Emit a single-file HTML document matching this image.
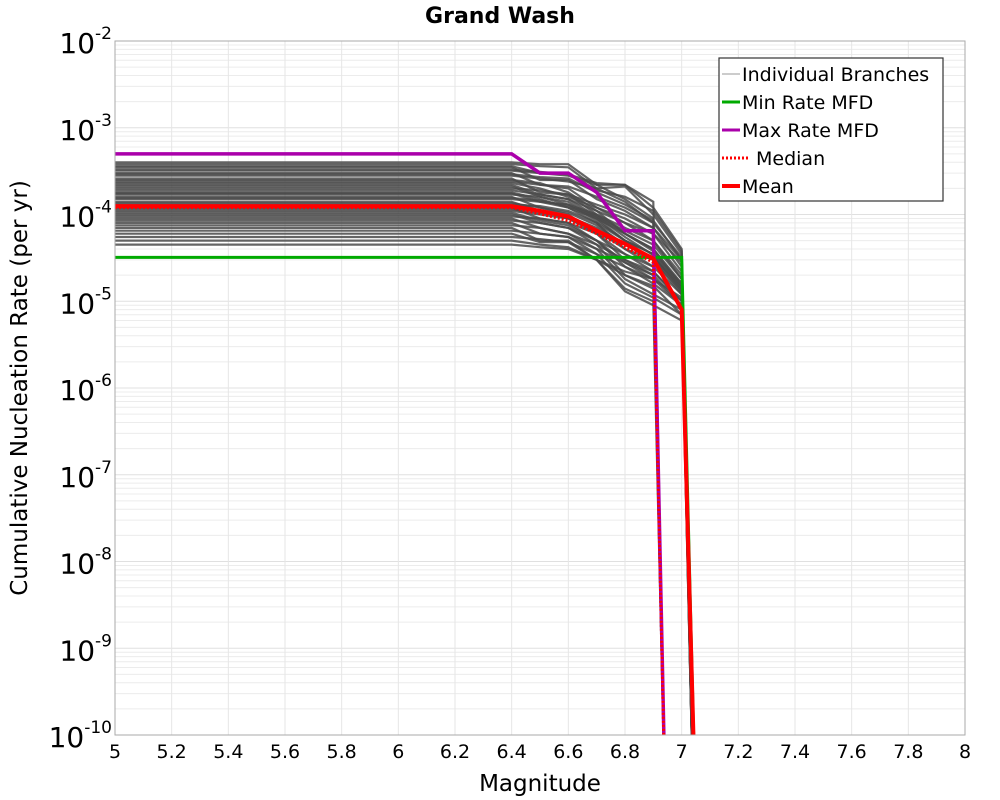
<!DOCTYPE html>
<html><head><meta charset="utf-8"><style>
html,body{margin:0;padding:0;background:#fff;overflow:hidden;width:1000px;height:800px}
svg{display:block}
</style></head><body>
<svg id="chart" width="1000" height="800" xmlns="http://www.w3.org/2000/svg" font-family="DejaVu Sans, Liberation Sans, sans-serif">
<defs><clipPath id="clip"><rect x="115" y="41" width="850" height="694"/></clipPath></defs>
<rect width="1000" height="800" fill="#fff"/>
<g id="grid"></g>
<g id="series" clip-path="url(#clip)"></g>
<rect x="115" y="41" width="850" height="694" fill="none" stroke="#aaa" stroke-width="1"/>
<g id="ticks"></g>
<text x="500" y="23" text-anchor="middle" font-size="22" font-weight="bold">Grand Wash</text>
<text x="540" y="791" text-anchor="middle" font-size="23">Magnitude</text>
<text transform="translate(27,388) rotate(-90)" text-anchor="middle" font-size="23">Cumulative Nucleation Rate (per yr)</text>
<g>
<rect x="719" y="58" width="224" height="143" fill="#fff" stroke="#333" stroke-width="1.2"/>
<line x1="722" y1="74" x2="740" y2="74" stroke="#999" stroke-width="1"/>
<text x="742" y="81" font-size="19">Individual Branches</text>
<line x1="722" y1="102" x2="740" y2="102" stroke="#00aa00" stroke-width="3"/>
<text x="742" y="109" font-size="19">Min Rate MFD</text>
<line x1="722" y1="130" x2="740" y2="130" stroke="#aa00aa" stroke-width="3"/>
<text x="742" y="137" font-size="19">Max Rate MFD</text>
<line x1="722" y1="158" x2="750" y2="158" stroke="#f00" stroke-width="3" stroke-dasharray="2,2"/>
<text x="756" y="165" font-size="19">Median</text>
<line x1="722" y1="186" x2="740" y2="186" stroke="#f00" stroke-width="4"/>
<text x="742" y="193" font-size="19">Mean</text>
</g>
</svg>
<script>
const xTicks=[5,5.2,5.4,5.6,5.8,6,6.2,6.4,6.6,6.8,7,7.2,7.4,7.6,7.8,8];
const xTickLabels=["5","5.2","5.4","5.6","5.8","6","6.2","6.4","6.6","6.8","7","7.2","7.4","7.6","7.8","8"];
const yExps=[-2,-3,-4,-5,-6,-7,-8,-9,-10];
const mags=[5,6.4,6.5,6.6,6.7,6.8,6.9,7.0,7.05];
const maxRate=[5e-4,5e-4,3e-4,3e-4,1.8e-4,6.5e-5,6.5e-5,1e-12,null];
const minRate=[3.2e-5,3.2e-5,3.2e-5,3.2e-5,3.2e-5,3.2e-5,3.2e-5,3.2e-5,1e-11];
const meanRate=[1.25e-4,1.25e-4,1.1e-4,9.5e-5,6.5e-5,4.6e-5,3.1e-5,8e-6,1e-11];
const medianRate=[1.2e-4,1.2e-4,1.02e-4,8.5e-5,6e-5,4.2e-5,2.8e-5,1e-12,null];
const branches=[
[4e-4,3.8e-4,3.8e-4,2.2e-4,2.2e-4,1.2e-4,4e-5],
[3.8e-4,3.6e-4,3.5e-4,2e-4,2.1e-4,1e-4,3.5e-5],
[3.6e-4,3e-4,3e-4,1.9e-4,1.6e-4,1.1e-4,3.8e-5],
[3.5e-4,2.5e-4,2.5e-4,1.5e-4,1.1e-4,7e-5,2.5e-5],
[3.3e-4,3.1e-4,2.9e-4,2.3e-4,2.2e-4,1.4e-4,null],
[3.2e-4,3e-4,2.8e-4,2.2e-4,1.5e-4,9e-5,null],
[3e-4,2.2e-4,2e-4,1.2e-4,8e-5,5e-5,1.8e-5],
[2.9e-4,2.7e-4,2.6e-4,1.8e-4,1.3e-4,8.5e-5,3e-5],
[2.8e-4,2.6e-4,2.4e-4,2e-4,1.4e-4,8e-5,null],
[2.6e-4,1.8e-4,1.7e-4,1e-4,6e-5,3.8e-5,1.4e-5],
[2.5e-4,2.3e-4,1.8e-4,1.1e-4,6e-5,4e-5,1.5e-5],
[2.4e-4,2.2e-4,2.1e-4,1.6e-4,1.2e-4,8e-5,3.2e-5],
[2.3e-4,2e-4,1.6e-4,1.2e-4,9e-5,6e-5,2.2e-5],
[2.2e-4,1.7e-4,1.5e-4,9.5e-5,5.5e-5,3.4e-5,1.3e-5],
[2.1e-4,1.6e-4,1.4e-4,9e-5,5e-5,3e-5,null],
[2e-4,1.9e-4,1.7e-4,1.3e-4,1e-4,7e-5,3e-5],
[1.9e-4,1.7e-4,1.5e-4,1.1e-4,8e-5,6e-5,2.8e-5],
[1.8e-4,1.5e-4,1.2e-4,8e-5,4e-5,2.5e-5,1.2e-5],
[1.75e-4,1.4e-4,1.3e-4,8.5e-5,5e-5,3.5e-5,1.6e-5],
[1.7e-4,1.6e-4,1.3e-4,1e-4,7e-5,5e-5,2e-5],
[1.6e-4,1.2e-4,1e-4,6e-5,3e-5,2e-5,null],
[1.55e-4,1.45e-4,1.25e-4,9.5e-5,6.5e-5,4.5e-5,1.8e-5],
[1.5e-4,1.4e-4,1.2e-4,9e-5,6e-5,4e-5,1.6e-5],
[1.4e-4,1.1e-4,9e-5,6e-5,3.5e-5,2.2e-5,1e-5],
[1.35e-4,1.2e-4,1.05e-4,7.5e-5,4.5e-5,3e-5,1.2e-5],
[1.3e-4,1.25e-4,1.1e-4,8e-5,5e-5,3.5e-5,null],
[1.2e-4,9e-5,8e-5,5e-5,2.5e-5,1.6e-5,9e-6],
[1.15e-4,1.05e-4,9.5e-5,7e-5,4.5e-5,3.2e-5,1.4e-5],
[1.1e-4,1e-4,9e-5,6.5e-5,4e-5,3e-5,1.3e-5],
[1.05e-4,8.5e-5,7.5e-5,5e-5,2.8e-5,1.8e-5,9e-6],
[1e-4,8e-5,7e-5,4.5e-5,2e-5,1.4e-5,null],
[9.5e-5,9e-5,8e-5,6e-5,4.5e-5,3.2e-5,1.5e-5],
[9e-5,7e-5,6e-5,4e-5,1.8e-5,1.2e-5,8e-6],
[8.5e-5,8e-5,7e-5,5e-5,3.5e-5,2.5e-5,null],
[8e-5,6e-5,5.5e-5,3.5e-5,1.6e-5,1.1e-5,7e-6],
[7.5e-5,7e-5,6e-5,4.5e-5,3e-5,2.2e-5,1e-5],
[7e-5,5e-5,5e-5,3e-5,1.4e-5,1e-5,null],
[6.5e-5,6e-5,5.5e-5,4e-5,2.8e-5,2e-5,9e-6],
[6e-5,4.8e-5,4.8e-5,3e-5,1.3e-5,9e-6,6e-6],
[5.5e-5,5.2e-5,4.8e-5,3.5e-5,2.5e-5,1.8e-5,null],
[5e-5,4.5e-5,4.2e-5,3e-5,2e-5,1.5e-5,7e-6],
[4.5e-5,4.2e-5,4e-5,3e-5,2.2e-5,1.8e-5,1.1e-5]
];
const branchMags=[6.4,6.5,6.6,6.7,6.8,6.9,7.0];
const NS="http://www.w3.org/2000/svg";
const X=m=>115+(m-5)/3*850;
const Y=v=>41+(-2-Math.log10(v))*86.75;
function mk(tag,attrs,parent){const e=document.createElementNS(NS,tag);for(const k in attrs)e.setAttribute(k,attrs[k]);parent.appendChild(e);return e;}
const grid=document.getElementById('grid'),ticks=document.getElementById('ticks'),series=document.getElementById('series');
for(let d=-3;d>=-10;d--){for(let k=2;k<=9;k++){const y=Y(k*Math.pow(10,d));const l=mk('line',{x1:115,x2:965,y1:y,y2:y,stroke:'#ececec','stroke-width':1},grid);

}}
yExps.forEach(e=>{const y=Y(Math.pow(10,e));const l=mk('line',{x1:115,x2:965,y1:y,y2:y,stroke:'#e0e0e0','stroke-width':1},grid);


const t=mk('text',{x:112,y:y+12,'text-anchor':'end','font-size':28},ticks);


t.innerHTML='10<tspan dy="-14" font-size="17">'+e+'</tspan>';});
xTicks.forEach((m,i)=>{const x=X(m);const l=mk('line',{x1:x,x2:x,y1:41,y2:735,stroke:'#e6e6e6','stroke-width':1},grid);


const t=mk('text',{x:x,y:758,'text-anchor':'middle','font-size':19},ticks);


t.textContent=xTickLabels[i];});
function path(ms,vs){let d='';ms.forEach((m,i)=>{if(vs[i]==null)return;d+=(d?'L':'M')+X(m).toFixed(1)+','+Y(vs[i]).toFixed(1);});return d;}
branches.forEach(b=>{const ms=[5],vs=[b[0]];let last=0;b.forEach((v,i)=>{if(v!=null){ms.push(branchMags[i]);vs.push(v);last=i;}});ms.push(branchMags[last]+0.05);vs.push(1e-12);
const p=mk('path',{d:path(ms,vs),fill:'none',stroke:'#4a4a4a','stroke-opacity':0.85,'stroke-width':2.2},series);

});
const s=[[minRate,'#00aa00',3,null,'min-rate-line'],[maxRate,'#aa00aa',3.5,null,'max-rate-line'],[medianRate,'#f00',3,'2,2','median-line'],[meanRate,'#f00',4,null,'mean-line']];
s.forEach(([vs,c,w,da,n])=>{let ms=mags.slice(),v2=vs.slice();if(vs===maxRate||vs===medianRate){ms[7]=6.95;}
const a={d:path(ms,v2),fill:'none',stroke:c,'stroke-width':w};if(da)a['stroke-dasharray']=da;const p=mk('path',a,series);

});
</script>
</body></html>
